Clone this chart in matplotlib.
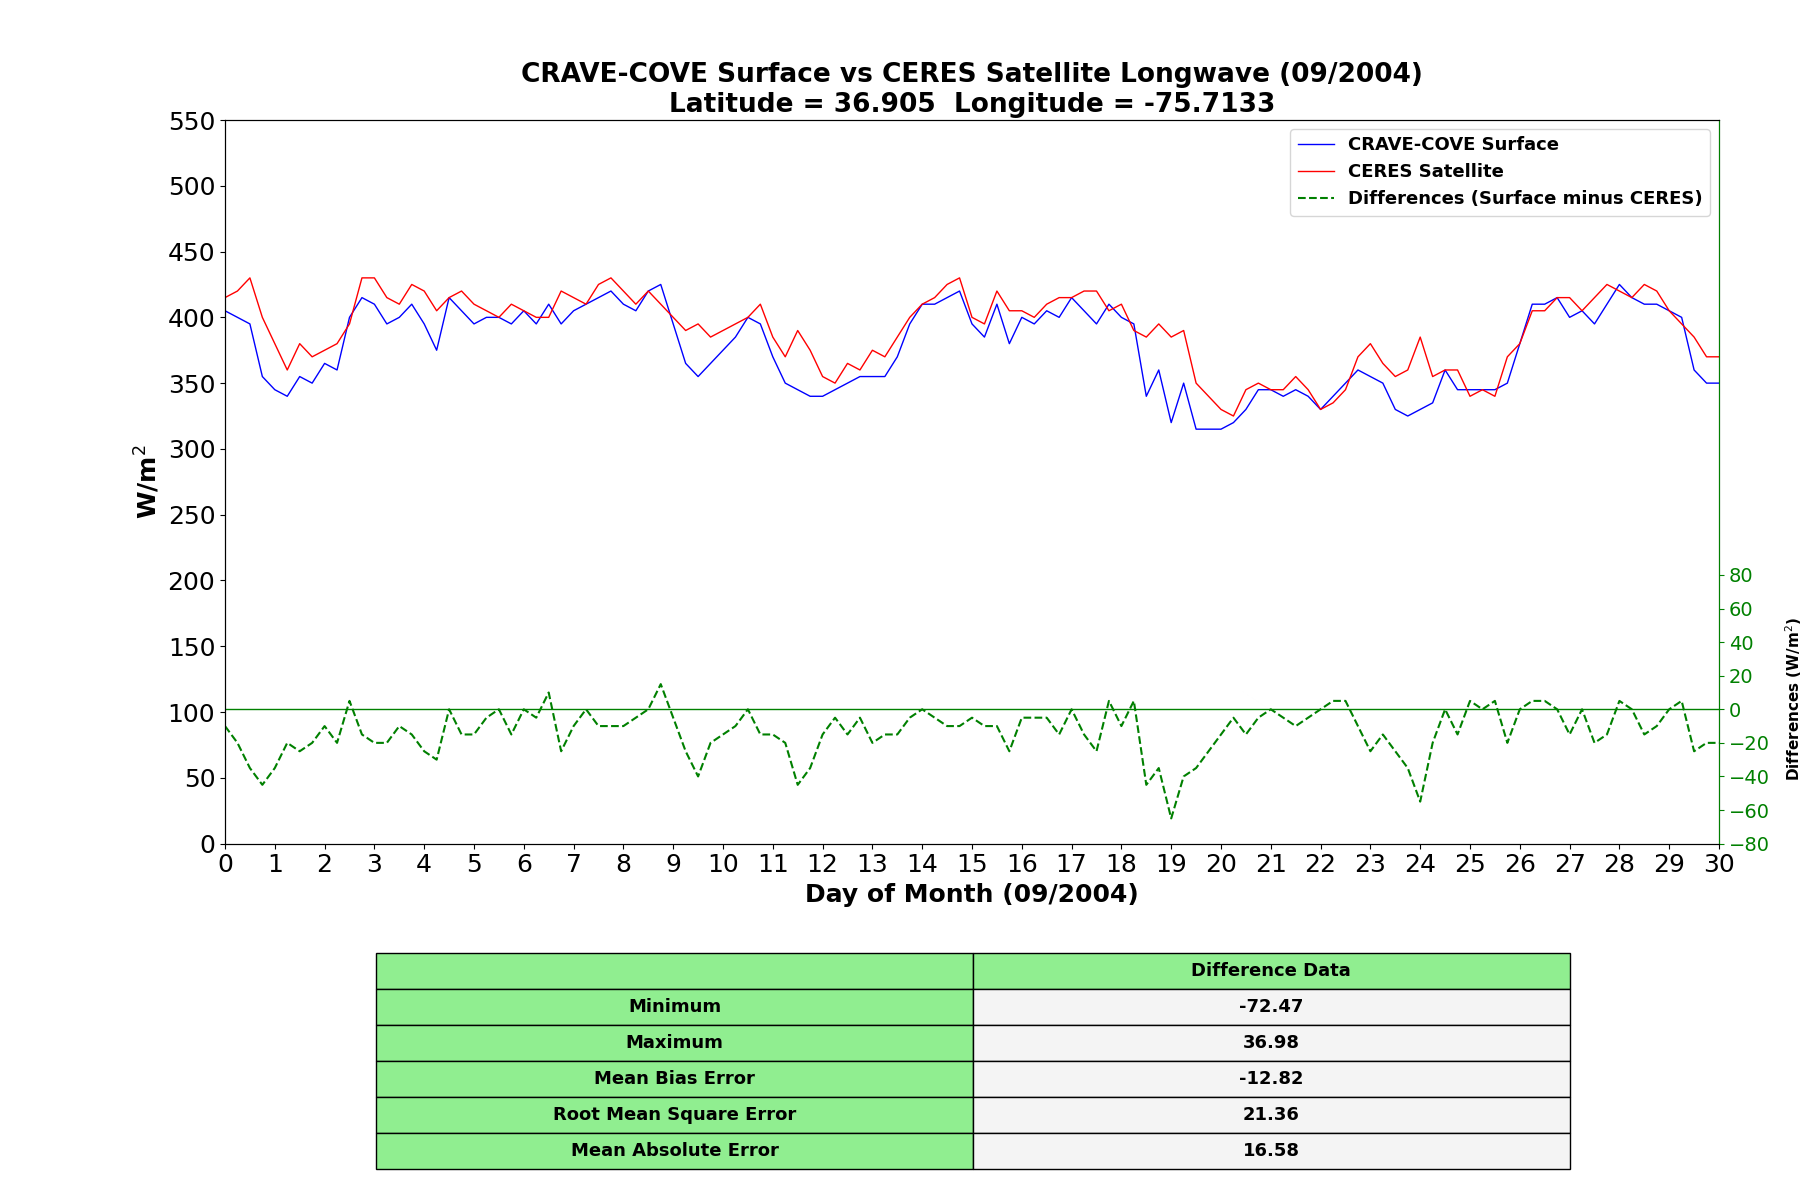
import numpy as np
import matplotlib.pyplot as plt

# six-hourly readings, day 0 .. day 30
surface = [405, 400, 395, 355, 345, 340, 355, 350, 365, 360, 400, 415,
           410, 395, 400, 410, 395, 375, 415, 405, 395, 400, 400, 395,
           405, 395, 410, 395, 405, 410, 415, 420, 410, 405, 420, 425,
           395, 365, 355, 365, 375, 385, 400, 395, 370, 350, 345, 340,
           340, 345, 350, 355, 355, 355, 370, 395, 410, 410, 415, 420,
           395, 385, 410, 380, 400, 395, 405, 400, 415, 405, 395, 410,
           400, 395, 340, 360, 320, 350, 315, 315, 315, 320, 330, 345,
           345, 340, 345, 340, 330, 340, 350, 360, 355, 350, 330, 325,
           330, 335, 360, 345, 345, 345, 345, 350, 380, 410, 410, 415,
           400, 405, 395, 410, 425, 415, 410, 410, 405, 400, 360, 350, 350]
ceres = [415, 420, 430, 400, 380, 360, 380, 370, 375, 380, 395, 430,
         430, 415, 410, 425, 420, 405, 415, 420, 410, 405, 400, 410,
         405, 400, 400, 420, 415, 410, 425, 430, 420, 410, 420, 410,
         400, 390, 395, 385, 390, 395, 400, 410, 385, 370, 390, 375,
         355, 350, 365, 360, 375, 370, 385, 400, 410, 415, 425, 430,
         400, 395, 420, 405, 405, 400, 410, 415, 415, 420, 420, 405,
         410, 390, 385, 395, 385, 390, 350, 340, 330, 325, 345, 350,
         345, 345, 355, 345, 330, 335, 345, 370, 380, 365, 355, 360,
         385, 355, 360, 360, 340, 345, 340, 370, 380, 405, 405, 415,
         415, 405, 415, 425, 420, 415, 425, 420, 405, 395, 385, 370, 370]
stat_names = ['Minimum', 'Maximum', 'Mean Bias Error',
              'Root Mean Square Error', 'Mean Absolute Error']
stat_vals = ['-72.47', '36.98', '-12.82', '21.36', '16.58']

days = np.linspace(0, 30, len(surface))
diff = np.array(surface) - np.array(ceres)

fig = plt.figure(figsize=(18, 12), dpi=100)
ax = fig.add_axes([0.125, 0.297, 0.83, 0.603])
l1, = ax.plot(days, surface, color='blue', lw=1, label='CRAVE-COVE Surface')
l2, = ax.plot(days, ceres, color='red', lw=1, label='CERES Satellite')
ax.set_xlim(0, 30)
ax.set_ylim(0, 550)
ax.set_xticks(range(31))
ax.set_yticks(range(0, 551, 50))
ax.tick_params(labelsize=18)
ax.set_xlabel('Day of Month (09/2004)', fontsize=18, fontweight='bold')
ax.set_ylabel('W/m$^2$', fontsize=18, fontweight='bold')
ax.set_title('CRAVE-COVE Surface vs CERES Satellite Longwave (09/2004)\n'
             'Latitude = 36.905  Longitude = -75.7133',
             fontsize=19, fontweight='bold')

ax2 = ax.twinx()
l3, = ax2.plot(days, diff, color='green', ls='--', lw=1.5,
               label='Differences (Surface minus CERES)')
ax2.axhline(0, color='green', lw=1)
ax2.set_ylim(-80, 351)
ax2.set_yticks(range(-80, 81, 20))
ax2.tick_params(axis='y', colors='green', labelsize=14)
ax2.spines['right'].set_color('green')
ax2.set_ylabel('Differences (W/m$^2$)', fontsize=11, fontweight='bold')
ax2.yaxis.set_label_coords(1.043, 0.2)

ax.legend(handles=[l1, l2, l3], loc='upper right',
          prop={'weight': 'bold', 'size': 13})

tax = fig.add_axes([0.209, 0.026, 0.663, 0.18])
tax.axis('off')
cells = [[n, v] for n, v in zip(stat_names, stat_vals)]
tbl = tax.table(cellText=cells, colLabels=['', 'Difference Data'],
                loc='center', bbox=[0, 0, 1, 1], cellLoc='center')
tbl.auto_set_font_size(False)
for (r, c), cell in tbl.get_celld().items():
    cell.set_text_props(fontweight='bold', fontsize=13)
    cell.set_facecolor('#90ee90' if r == 0 or c == 0 else '#f4f4f4')

fig.savefig('out.png')
